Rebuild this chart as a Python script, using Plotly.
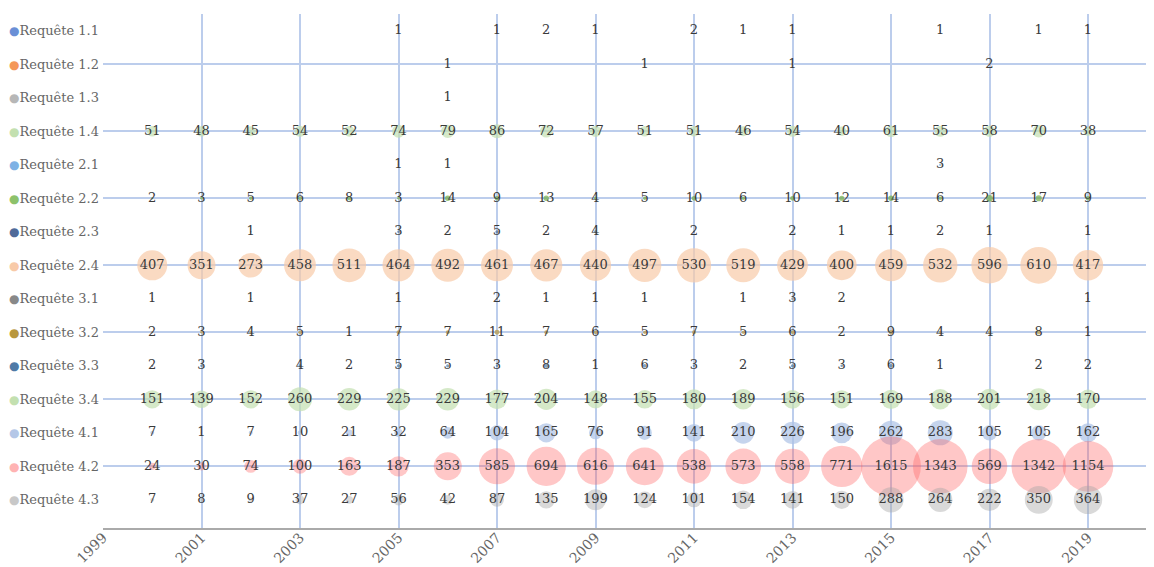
import plotly.graph_objects as go

years = list(range(2000, 2020))
N = None

series_names = ["Requête 1.1", "Requête 1.2", "Requête 1.3", "Requête 1.4",
                "Requête 2.1", "Requête 2.2", "Requête 2.3", "Requête 2.4",
                "Requête 3.1", "Requête 3.2", "Requête 3.3", "Requête 3.4",
                "Requête 4.1", "Requête 4.2", "Requête 4.3"]

r11 = [N, N, N, N, N, 1, N, 1, 2, 1, N, 2, 1, 1, N, N, 1, N, 1, 1]
r12 = [N, N, N, N, N, N, 1, N, N, N, 1, N, N, 1, N, N, N, 2, N, N]
r13 = [N, N, N, N, N, N, 1, N, N, N, N, N, N, N, N, N, N, N, N, N]
r14 = [51, 48, 45, 54, 52, 74, 79, 86, 72, 57, 51, 51, 46, 54, 40, 61, 55, 58, 70, 38]
r21 = [N, N, N, N, N, 1, 1, N, N, N, N, N, N, N, N, N, 3, N, N, N]
r22 = [2, 3, 5, 6, 8, 3, 14, 9, 13, 4, 5, 10, 6, 10, 12, 14, 6, 21, 17, 9]
r23 = [N, N, 1, N, N, 3, 2, 5, 2, 4, N, 2, N, 2, 1, 1, 2, 1, N, 1]
r24 = [407, 351, 273, 458, 511, 464, 492, 461, 467, 440, 497, 530, 519, 429, 400, 459, 532, 596, 610, 417]
r31 = [1, N, 1, N, N, 1, N, 2, 1, 1, 1, N, 1, 3, 2, N, N, N, N, 1]
r32 = [2, 3, 4, 5, 1, 7, 7, 11, 7, 6, 5, 7, 5, 6, 2, 9, 4, 4, 8, 1]
r33 = [2, 3, N, 4, 2, 5, 5, 3, 8, 1, 6, 3, 2, 5, 3, 6, 1, N, 2, 2]
r34 = [151, 139, 152, 260, 229, 225, 229, 177, 204, 148, 155, 180, 189, 156, 151, 169, 188, 201, 218, 170]
r41 = [7, 1, 7, 10, 21, 32, 64, 104, 165, 76, 91, 141, 210, 226, 196, 262, 283, 105, 105, 162]
r42 = [24, 30, 74, 100, 163, 187, 353, 585, 694, 616, 641, 538, 573, 558, 771, 1615, 1343, 569, 1342, 1154]
r43 = [7, 8, 9, 37, 27, 56, 42, 87, 135, 199, 124, 101, 154, 141, 150, 288, 264, 222, 350, 364]

series_values = [r11, r12, r13, r14, r21, r22, r23, r24, r31, r32, r33, r34, r41, r42, r43]

dot_colors = ["#6a8fd6", "#f4975a", "#b7b7b7", "#c3e0b0", "#7fb2e5", "#8dc26b", "#4f6a99",
              "#f8caa8", "#888888", "#b8973e", "#4f7aa6", "#c3e0b0", "#b4c7e7", "#ffb3b3", "#c8c8c8"]
marker_colors = ["#6a8fd6", "#f4975a", "#b7b7b7", "#c3e0b0", "#7fb2e5", "#70ad47", "#4f6a99",
                 "#f8caa8", "#888888", "#b8973e", "#4f7aa6", "#c3e0b0", "#adc2e6",
                 "rgba(255,95,95,0.5)", "rgba(165,165,165,0.6)"]

SCALE = 1.49
SERIF = "DejaVu Serif"
GRID = "#bccdec"

fig = go.Figure()
for i, (name, vals) in enumerate(zip(series_names, series_values)):
    xs = [y for y, v in zip(years, vals) if v is not None]
    vs = [v for v in vals if v is not None]
    fig.add_trace(go.Scatter(
        x=xs, y=[i] * len(xs), mode="markers+text",
        text=[str(v) for v in vs], textposition="middle center",
        textfont=dict(family=SERIF, size=13, color="#3a3a3a"),
        marker=dict(size=[SCALE * v ** 0.5 for v in vs], sizemode="diameter",
                    color=marker_colors[i], line=dict(width=0)),
        name=name, showlegend=False, hoverinfo="skip", cliponaxis=False,
    ))

# invisible trace for the secondary grid axis
fig.add_trace(go.Scatter(x=[2000], y=[0], yaxis="y2", mode="markers",
                         marker=dict(opacity=0), showlegend=False, hoverinfo="skip"))

ticktext = [f'<span style="color:{c};font-size:12px">●</span>{n}' for c, n in zip(dot_colors, series_names)]
yrange = [14.84, -0.5]

# the page body adds an 8px offset; margins compensate for it
fig.update_layout(
    width=1146, height=559,
    margin=dict(l=95, r=0, t=6, b=39, autoexpand=False),
    paper_bgcolor="white", plot_bgcolor="white",
    font=dict(family=SERIF, size=13, color="#666666"),
    xaxis=dict(range=[1999, 2020.34], tick0=1999, dtick=2, tickangle=-45,
               showgrid=True, gridcolor=GRID, gridwidth=2, zeroline=False,
               showline=True, linecolor="#aaaaaa", linewidth=2, automargin=False,
               ticks="", ticklabelstandoff=-6,
               tickfont=dict(family=SERIF, size=14, color="#666666")),
    yaxis=dict(range=yrange, tickmode="array", tickvals=list(range(15)), ticktext=ticktext,
               showgrid=False, zeroline=False, showline=False, ticks="", automargin=False,
               ticklabelstandoff=3,
               tickfont=dict(family=SERIF, size=13, color="#666666")),
    yaxis2=dict(range=yrange, overlaying="y", side="left", tickmode="array",
                tickvals=[1, 3, 5, 7, 9, 11, 13], showticklabels=False,
                showgrid=True, gridcolor=GRID, gridwidth=2, zeroline=False,
                showline=False, ticks=""),
)

fig.write_html("out.html")
